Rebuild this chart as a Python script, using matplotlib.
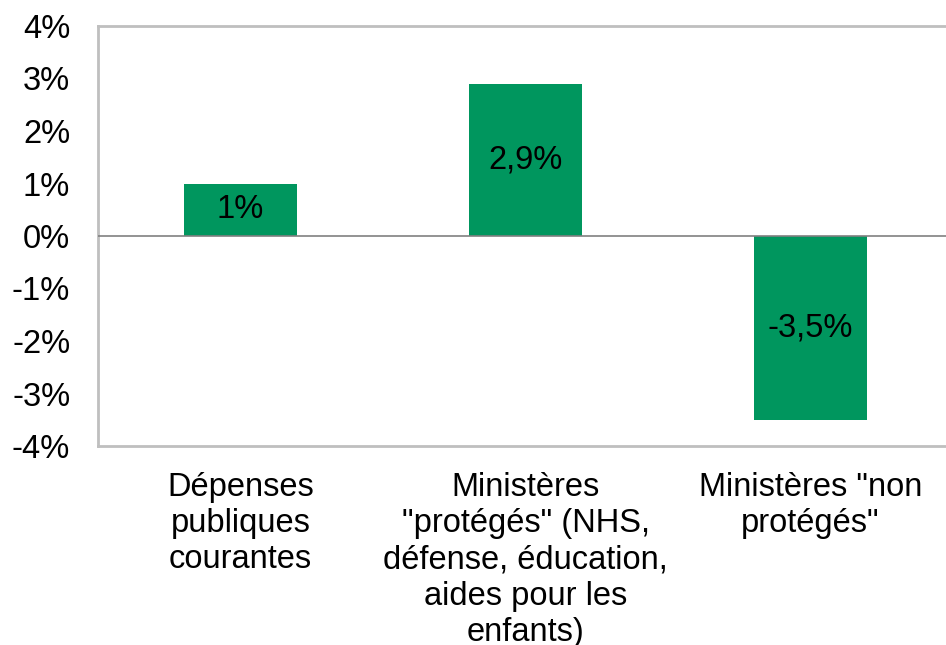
import matplotlib
matplotlib.use("Agg")
import matplotlib.pyplot as plt
from matplotlib.ticker import FuncFormatter

categories = ["Dépenses\npubliques\ncourantes",
              "Ministères\n\"protégés\" (NHS,\ndéfense, éducation,\naides pour les\nenfants)",
              "Ministères \"non\nprotégés\""]
values = [1.0, 2.9, -3.5]
value_labels = ["1%", "2,9%", "-3,5%"]
yticks = [-4, -3, -2, -1, 0, 1, 2, 3, 4]

plt.rcParams['font.family'] = ['Liberation Sans', 'DejaVu Sans']

fig = plt.figure(figsize=(9.46, 6.45), dpi=100)
ax = fig.add_axes([98/946, 1-446/645, (953-98)/946, (446-26)/645])

x = list(range(len(categories)))
bars = ax.bar(x, values, width=0.397, color="#00965E", zorder=2)
ax.set_xlim(-0.5, len(categories)-0.5)
ax.set_ylim(-4, 4)
ax.set_yticks(yticks)
ax.yaxis.set_major_formatter(FuncFormatter(lambda v, p: f"{int(v)}%"))
ax.tick_params(axis='y', length=0, pad=20, labelsize=23.5)
ax.set_xticks(x)
ax.set_xticklabels(categories, fontsize=23.5, linespacing=1.21)
ax.tick_params(axis='x', length=0, pad=19)
ax.axhline(0, color="#808080", lw=1.2, zorder=3)

for s in ['left', 'top', 'bottom']:
    ax.spines[s].set_color("#BFBFBF")
    ax.spines[s].set_linewidth(2)
ax.spines['right'].set_visible(False)

for b, lab, v in zip(bars, value_labels, values):
    ax.text(b.get_x()+b.get_width()/2, v/2, lab, ha='center', va='center', fontsize=23.5, color='black', zorder=4)

fig.savefig("out.png", dpi=100)
